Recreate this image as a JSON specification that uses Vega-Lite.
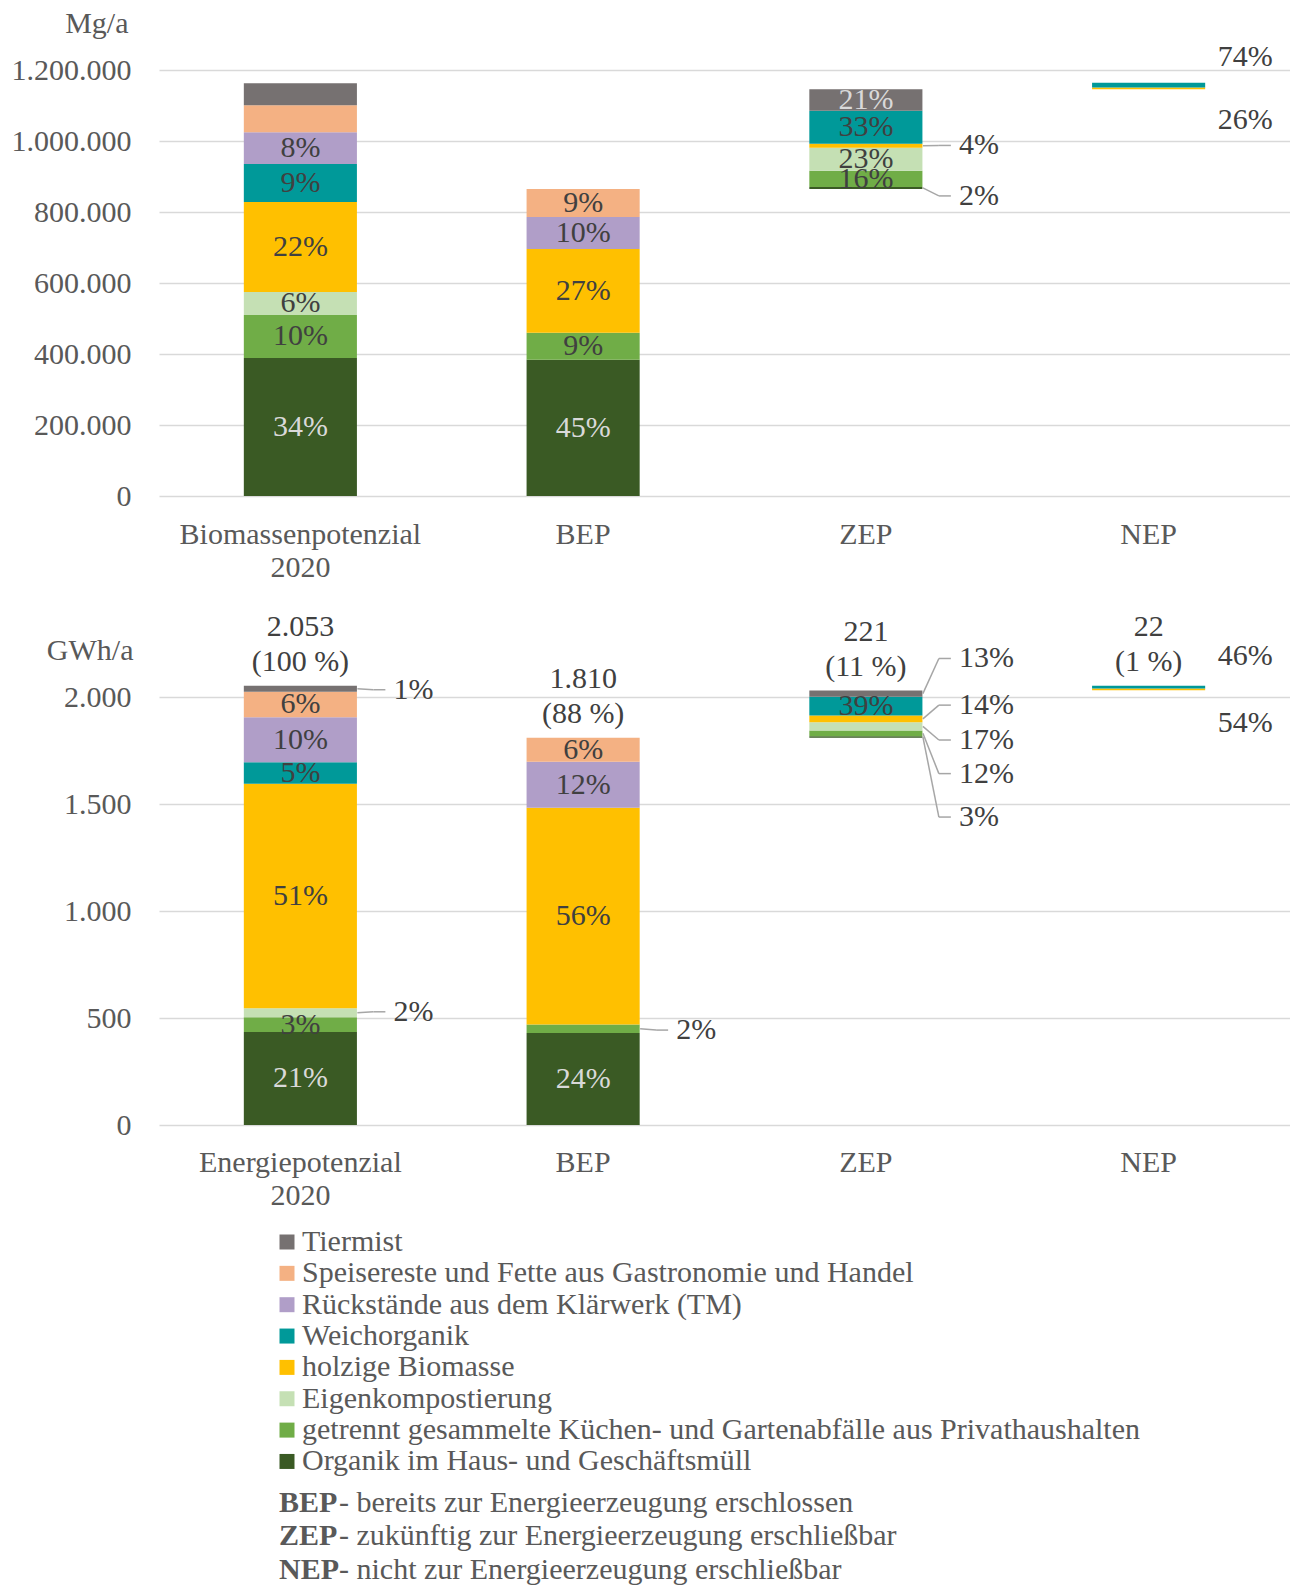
{
  "$schema": "https://vega.github.io/schema/vega-lite/v6.json",
  "background": "white",
  "padding": {"left": 11, "top": 8, "right": 0, "bottom": 0},
  "datasets": {
    "mg": [
      {"cat": "Biomassenpotenzial 2020", "src": "Organik im Haus- und Geschäftsmüll", "v": 389000, "lab": "34%"},
      {"cat": "Biomassenpotenzial 2020", "src": "getrennt gesammelte Küchen- und Gartenabfälle aus Privathaushalten", "v": 121000, "lab": "10%"},
      {"cat": "Biomassenpotenzial 2020", "src": "Eigenkompostierung", "v": 65000, "lab": "6%"},
      {"cat": "Biomassenpotenzial 2020", "src": "holzige Biomasse", "v": 253000, "lab": "22%"},
      {"cat": "Biomassenpotenzial 2020", "src": "Weichorganik", "v": 107000, "lab": "9%"},
      {"cat": "Biomassenpotenzial 2020", "src": "Rückstände aus dem Klärwerk (TM)", "v": 90000, "lab": "8%"},
      {"cat": "Biomassenpotenzial 2020", "src": "Speisereste und Fette aus Gastronomie und Handel", "v": 76000},
      {"cat": "Biomassenpotenzial 2020", "src": "Tiermist", "v": 62000},
      {"cat": "BEP", "src": "Organik im Haus- und Geschäftsmüll", "v": 384000, "lab": "45%"},
      {"cat": "BEP", "src": "getrennt gesammelte Küchen- und Gartenabfälle aus Privathaushalten", "v": 76000, "lab": "9%"},
      {"cat": "BEP", "src": "holzige Biomasse", "v": 236000, "lab": "27%"},
      {"cat": "BEP", "src": "Rückstände aus dem Klärwerk (TM)", "v": 90000, "lab": "10%"},
      {"cat": "BEP", "src": "Speisereste und Fette aus Gastronomie und Handel", "v": 79000, "lab": "9%"},
      {"cat": "ZEP", "src": "Basis", "v": 865000},
      {"cat": "ZEP", "src": "Organik im Haus- und Geschäftsmüll", "v": 5500, "lab": "2%", "ly": 845300},
      {"cat": "ZEP", "src": "getrennt gesammelte Küchen- und Gartenabfälle aus Privathaushalten", "v": 45500, "lab": "16%"},
      {"cat": "ZEP", "src": "Eigenkompostierung", "v": 65000, "lab": "23%"},
      {"cat": "ZEP", "src": "holzige Biomasse", "v": 11000, "lab": "4%", "ly": 987500},
      {"cat": "ZEP", "src": "Weichorganik", "v": 93000, "lab": "33%"},
      {"cat": "ZEP", "src": "Tiermist", "v": 61000, "lab": "21%"},
      {"cat": "NEP", "src": "Basis", "v": 1146000},
      {"cat": "NEP", "src": "holzige Biomasse", "v": 4800, "lab": "26%", "ly": 1057800},
      {"cat": "NEP", "src": "Weichorganik", "v": 13000, "lab": "74%", "ly": 1237200}
    ],
    "gwh": [
      {"cat": "Energiepotenzial 2020", "src": "Organik im Haus- und Geschäftsmüll", "v": 435, "lab": "21%"},
      {"cat": "Energiepotenzial 2020", "src": "getrennt gesammelte Küchen- und Gartenabfälle aus Privathaushalten", "v": 68, "lab": "3%"},
      {"cat": "Energiepotenzial 2020", "src": "Eigenkompostierung", "v": 42, "lab": "2%", "ly": 529},
      {"cat": "Energiepotenzial 2020", "src": "holzige Biomasse", "v": 1050, "lab": "51%"},
      {"cat": "Energiepotenzial 2020", "src": "Weichorganik", "v": 100, "lab": "5%"},
      {"cat": "Energiepotenzial 2020", "src": "Rückstände aus dem Klärwerk (TM)", "v": 210, "lab": "10%"},
      {"cat": "Energiepotenzial 2020", "src": "Speisereste und Fette aus Gastronomie und Handel", "v": 120, "lab": "6%"},
      {"cat": "Energiepotenzial 2020", "src": "Tiermist", "v": 28, "lab": "1%", "ly": 2034, "tot": "2.053\n(100 %)"},
      {"cat": "BEP", "src": "Organik im Haus- und Geschäftsmüll", "v": 430, "lab": "24%"},
      {"cat": "BEP", "src": "getrennt gesammelte Küchen- und Gartenabfälle aus Privathaushalten", "v": 40, "lab": "2%", "ly": 443.5},
      {"cat": "BEP", "src": "holzige Biomasse", "v": 1013, "lab": "56%"},
      {"cat": "BEP", "src": "Rückstände aus dem Klärwerk (TM)", "v": 215, "lab": "12%"},
      {"cat": "BEP", "src": "Speisereste und Fette aus Gastronomie und Handel", "v": 112, "lab": "6%", "tot": "1.810\n(88 %)"},
      {"cat": "ZEP", "src": "Basis", "v": 1810},
      {"cat": "ZEP", "src": "Organik im Haus- und Geschäftsmüll", "v": 7, "lab": "3%", "ly": 1439},
      {"cat": "ZEP", "src": "getrennt gesammelte Küchen- und Gartenabfälle aus Privathaushalten", "v": 27, "lab": "12%", "ly": 1642},
      {"cat": "ZEP", "src": "Eigenkompostierung", "v": 38, "lab": "17%", "ly": 1799},
      {"cat": "ZEP", "src": "holzige Biomasse", "v": 31, "lab": "14%", "ly": 1962},
      {"cat": "ZEP", "src": "Weichorganik", "v": 88, "lab": "39%"},
      {"cat": "ZEP", "src": "Tiermist", "v": 29, "lab": "13%", "ly": 2180, "tot": "221\n(11 %)"},
      {"cat": "NEP", "src": "Basis", "v": 2031},
      {"cat": "NEP", "src": "holzige Biomasse", "v": 9, "lab": "46%", "ly": 2190},
      {"cat": "NEP", "src": "Weichorganik", "v": 13, "lab": "54%", "ly": 1878, "tot": "22\n(1 %)"}
    ]
  },
  "vconcat": [
    {
      "width": 1131,
      "height": 426,
      "data": {"name": "mg"},
      "transform": [
        {"calculate": "indexof(['Basis','Organik im Haus- und Geschäftsmüll','getrennt gesammelte Küchen- und Gartenabfälle aus Privathaushalten','Eigenkompostierung','holzige Biomasse','Weichorganik','Rückstände aus dem Klärwerk (TM)','Speisereste und Fette aus Gastronomie und Handel','Tiermist'], datum.src)", "as": "o"},
        {"stack": "v", "groupby": ["cat"], "sort": [{"field": "o", "order": "ascending"}], "as": ["y0", "y1"]},
        {"filter": "datum.src != 'Basis'"},
        {"calculate": "(datum.y0 + datum.y1) / 2", "as": "mid"}
      ],
      "encoding": {
        "x": {
          "field": "cat", "type": "nominal",
          "sort": ["Biomassenpotenzial 2020", "BEP", "ZEP", "NEP"],
          "scale": {"paddingInner": 0.6, "paddingOuter": 0.3},
          "axis": {"title": null, "labelAngle": 0, "labelExpr": "split(datum.label, ' ')", "labelLineHeight": 33, "labelPadding": 23, "labelLimit": 0, "grid": false}
        }
      },
      "layer": [
        {
          "mark": {"type": "bar"},
          "encoding": {
            "y": {
              "field": "y0", "type": "quantitative", "title": "Mg/a",
              "scale": {"domain": [0, 1200000], "nice": false},
              "axis": {
                "values": [0, 200000, 400000, 600000, 800000, 1000000, 1200000],
                "labelExpr": "replace(format(datum.value, ','), /,/g, '.')",
                "grid": true, "gridColor": "#d9d9d9", "gridWidth": 1.5,
                "labelPadding": 28,
                "titleAngle": 0, "titleAlign": "right", "titleBaseline": "alphabetic",
                "titleX": -31, "titleY": -38
              }
            },
            "y2": {"field": "y1"},
            "color": {
              "field": "src", "type": "nominal",
              "scale": {
                "domain": ["Tiermist", "Speisereste und Fette aus Gastronomie und Handel", "Rückstände aus dem Klärwerk (TM)", "Weichorganik", "holzige Biomasse", "Eigenkompostierung", "getrennt gesammelte Küchen- und Gartenabfälle aus Privathaushalten", "Organik im Haus- und Geschäftsmüll"],
                "range": ["#767171", "#F4B183", "#B09EC8", "#009999", "#FFC000", "#C5E0B4", "#70AD47", "#3A5A24"]
              },
              "legend": null
            }
          }
        },
        {
          "transform": [{"filter": "isValid(datum.lab) && !isValid(datum.ly)"}],
          "mark": {"type": "text", "baseline": "middle", "align": "center"},
          "encoding": {
            "y": {"field": "mid", "type": "quantitative", "title": "Mg/a", "scale": {"domain": [0, 1200000], "nice": false}},
            "text": {"field": "lab"},
            "color": {"condition": {"test": "datum.src == 'Organik im Haus- und Geschäftsmüll' || datum.src == 'Tiermist'", "value": "#d9d9d9"}, "value": "#404040"}
          }
        },
        {
          "transform": [{"filter": "isValid(datum.ly) && datum.cat != 'NEP'"}],
          "mark": {"type": "rule", "color": "#a6a6a6", "strokeWidth": 1.5, "xOffset": 57, "x2Offset": 73},
          "encoding": {
            "x2": {"field": "cat"},
            "y": {"field": "mid", "type": "quantitative", "title": "Mg/a", "scale": {"domain": [0, 1200000], "nice": false}},
            "y2": {"field": "ly"}
          }
        },
        {
          "transform": [{"filter": "isValid(datum.ly) && datum.cat != 'NEP'"}],
          "mark": {"type": "rule", "color": "#a6a6a6", "strokeWidth": 1.5, "xOffset": 73, "x2Offset": 85},
          "encoding": {
            "x2": {"field": "cat"},
            "y": {"field": "ly", "type": "quantitative", "title": "Mg/a", "scale": {"domain": [0, 1200000], "nice": false}}
          }
        },
        {
          "transform": [{"filter": "isValid(datum.ly) && datum.cat != 'NEP'"}],
          "mark": {"type": "text", "align": "left", "baseline": "middle", "dx": 93, "color": "#404040"},
          "encoding": {
            "y": {"field": "ly", "type": "quantitative", "title": "Mg/a", "scale": {"domain": [0, 1200000], "nice": false}},
            "text": {"field": "lab"}
          }
        },
        {
          "transform": [{"filter": "isValid(datum.ly) && datum.cat == 'NEP'"}],
          "mark": {"type": "text", "align": "left", "baseline": "middle", "dx": 69, "color": "#404040"},
          "encoding": {
            "y": {"field": "ly", "type": "quantitative", "title": "Mg/a", "scale": {"domain": [0, 1200000], "nice": false}},
            "text": {"field": "lab"}
          }
        }
      ]
    },
    {
      "width": 1131,
      "height": 428,
      "data": {"name": "gwh"},
      "transform": [
        {"calculate": "indexof(['Basis','Organik im Haus- und Geschäftsmüll','getrennt gesammelte Küchen- und Gartenabfälle aus Privathaushalten','Eigenkompostierung','holzige Biomasse','Weichorganik','Rückstände aus dem Klärwerk (TM)','Speisereste und Fette aus Gastronomie und Handel','Tiermist'], datum.src)", "as": "o"},
        {"stack": "v", "groupby": ["cat"], "sort": [{"field": "o", "order": "ascending"}], "as": ["y0", "y1"]},
        {"filter": "datum.src != 'Basis'"},
        {"calculate": "(datum.y0 + datum.y1) / 2", "as": "mid"}
      ],
      "encoding": {
        "x": {
          "field": "cat", "type": "nominal",
          "sort": ["Energiepotenzial 2020", "BEP", "ZEP", "NEP"],
          "scale": {"paddingInner": 0.6, "paddingOuter": 0.3},
          "axis": {"title": null, "labelAngle": 0, "labelExpr": "split(datum.label, ' ')", "labelLineHeight": 33, "labelPadding": 22, "labelLimit": 0, "grid": false}
        }
      },
      "layer": [
        {
          "mark": {"type": "bar"},
          "encoding": {
            "y": {
              "field": "y0", "type": "quantitative", "title": "GWh/a",
              "scale": {"domain": [0, 2000], "nice": false},
              "axis": {
                "values": [0, 500, 1000, 1500, 2000],
                "labelExpr": "replace(format(datum.value, ','), /,/g, '.')",
                "grid": true, "gridColor": "#d9d9d9", "gridWidth": 1.5,
                "labelPadding": 28,
                "titleAngle": 0, "titleAlign": "right", "titleBaseline": "alphabetic",
                "titleX": -26, "titleY": -38
              }
            },
            "y2": {"field": "y1"},
            "color": {
              "field": "src", "type": "nominal",
              "scale": {
                "domain": ["Tiermist", "Speisereste und Fette aus Gastronomie und Handel", "Rückstände aus dem Klärwerk (TM)", "Weichorganik", "holzige Biomasse", "Eigenkompostierung", "getrennt gesammelte Küchen- und Gartenabfälle aus Privathaushalten", "Organik im Haus- und Geschäftsmüll"],
                "range": ["#767171", "#F4B183", "#B09EC8", "#009999", "#FFC000", "#C5E0B4", "#70AD47", "#3A5A24"]
              },
              "legend": {
                "orient": "none", "legendX": 113, "legendY": 530,
                "direction": "vertical", "columns": 1,
                "title": null, "padding": 0,
                "symbolType": "square", "symbolSize": 225, "symbolStrokeWidth": 0,
                "labelFont": "Liberation Serif", "labelFontSize": 30, "labelColor": "#595959",
                "labelLimit": 0, "labelOffset": 0, "rowPadding": 1.35
              }
            }
          }
        },
        {
          "transform": [{"filter": "isValid(datum.lab) && !isValid(datum.ly)"}],
          "mark": {"type": "text", "baseline": "middle", "align": "center"},
          "encoding": {
            "y": {"field": "mid", "type": "quantitative", "title": "GWh/a", "scale": {"domain": [0, 2000], "nice": false}},
            "text": {"field": "lab"},
            "color": {"condition": {"test": "datum.src == 'Organik im Haus- und Geschäftsmüll' || datum.src == 'Tiermist'", "value": "#d9d9d9"}, "value": "#404040"}
          }
        },
        {
          "transform": [{"filter": "isValid(datum.ly) && datum.cat != 'NEP'"}],
          "mark": {"type": "rule", "color": "#a6a6a6", "strokeWidth": 1.5, "xOffset": 57, "x2Offset": 73},
          "encoding": {
            "x2": {"field": "cat"},
            "y": {"field": "mid", "type": "quantitative", "title": "GWh/a", "scale": {"domain": [0, 2000], "nice": false}},
            "y2": {"field": "ly"}
          }
        },
        {
          "transform": [{"filter": "isValid(datum.ly) && datum.cat != 'NEP'"}],
          "mark": {"type": "rule", "color": "#a6a6a6", "strokeWidth": 1.5, "xOffset": 73, "x2Offset": 85},
          "encoding": {
            "x2": {"field": "cat"},
            "y": {"field": "ly", "type": "quantitative", "title": "GWh/a", "scale": {"domain": [0, 2000], "nice": false}}
          }
        },
        {
          "transform": [{"filter": "isValid(datum.ly) && datum.cat != 'NEP'"}],
          "mark": {"type": "text", "align": "left", "baseline": "middle", "dx": 93, "color": "#404040"},
          "encoding": {
            "y": {"field": "ly", "type": "quantitative", "title": "GWh/a", "scale": {"domain": [0, 2000], "nice": false}},
            "text": {"field": "lab"}
          }
        },
        {
          "transform": [{"filter": "isValid(datum.ly) && datum.cat == 'NEP'"}],
          "mark": {"type": "text", "align": "left", "baseline": "middle", "dx": 69, "color": "#404040"},
          "encoding": {
            "y": {"field": "ly", "type": "quantitative", "title": "GWh/a", "scale": {"domain": [0, 2000], "nice": false}},
            "text": {"field": "lab"}
          }
        },
        {
          "transform": [{"filter": "isValid(datum.tot)"}],
          "mark": {"type": "text", "align": "center", "baseline": "bottom", "dy": -44, "lineBreak": "\n", "lineHeight": 35.7, "color": "#404040"},
          "encoding": {
            "y": {"field": "y1", "type": "quantitative", "title": "GWh/a", "scale": {"domain": [0, 2000], "nice": false}},
            "text": {"field": "tot"}
          }
        }
      ]
    },
    {
      "width": 1131,
      "height": 244,
      "data": {"values": [
        {"abk": "BEP", "zeile": 1, "txt": "- bereits zur Energieerzeugung erschlossen"},
        {"abk": "ZEP", "zeile": 2, "txt": "- zukünftig zur Energieerzeugung erschließbar"},
        {"abk": "NEP", "zeile": 3, "txt": "- nicht zur Energieerzeugung erschließbar"}
      ]},
      "encoding": {
        "y": {"field": "zeile", "type": "quantitative", "scale": {"domain": [-4.283, 3], "reverse": true, "nice": false, "zero": false}, "axis": null}
      },
      "layer": [
        {
          "mark": {"type": "text", "align": "left", "baseline": "middle", "fontWeight": "bold", "dx": 120, "color": "#595959"},
          "encoding": {"x": {"value": 0}, "text": {"field": "abk"}}
        },
        {
          "mark": {"type": "text", "align": "left", "baseline": "middle", "dx": 180, "color": "#595959"},
          "encoding": {"x": {"value": 0}, "text": {"field": "txt"}}
        }
      ]
    }
  ],
  "spacing": 201,
  "bounds": "flush",
  "resolve": {
    "scale": {"x": "independent", "y": "independent", "color": "independent"},
    "legend": {"color": "independent"}
  },
  "config": {
    "view": {"stroke": null},
    "locale": {"number": {"decimal": ",", "thousands": ".", "grouping": [3], "currency": ["", " €"]}},
    "text": {"font": "Liberation Serif", "fontSize": 30},
    "axis": {
      "labelFont": "Liberation Serif", "labelFontSize": 30, "labelColor": "#595959",
      "titleFont": "Liberation Serif", "titleFontSize": 30, "titleColor": "#595959", "titleFontWeight": "normal",
      "domain": false, "ticks": false, "tickSize": 0
    }
  }
}
